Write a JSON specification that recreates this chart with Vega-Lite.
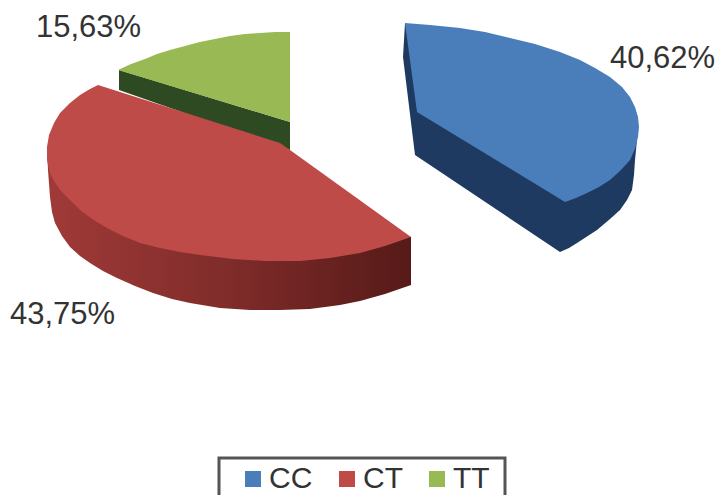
{
  "$schema": "https://vega.github.io/schema/vega-lite/v6.json",
  "width": 719,
  "height": 495,
  "padding": 0,
  "autosize": {"type": "none"},
  "background": "white",
  "view": {"stroke": null},
  "datasets": {
    "outlines": [
      {"slice":"TT","part":"wall","i":0,"x":119,"y":70},{"slice":"TT","part":"wall","i":1,"x":290,"y":122},{"slice":"TT","part":"wall","i":2,"x":290,"y":150},{"slice":"TT","part":"wall","i":3,"x":119,"y":90},

      {"slice":"CC","part":"wall","i":0,"x":405,"y":23},{"slice":"CC","part":"wall","i":1,"x":403,"y":57},{"slice":"CC","part":"wall","i":2,"x":415,"y":155},{"slice":"CC","part":"wall","i":3,"x":560,"y":252},{"slice":"CC","part":"wall","i":4,"x":569,"y":248},{"slice":"CC","part":"wall","i":5,"x":577,"y":243},{"slice":"CC","part":"wall","i":6,"x":597,"y":230},{"slice":"CC","part":"wall","i":7,"x":610,"y":219},{"slice":"CC","part":"wall","i":8,"x":620,"y":210},{"slice":"CC","part":"wall","i":9,"x":627,"y":200},{"slice":"CC","part":"wall","i":10,"x":632,"y":190},{"slice":"CC","part":"wall","i":11,"x":634,"y":175},{"slice":"CC","part":"wall","i":12,"x":635,"y":160},{"slice":"CC","part":"wall","i":13,"x":638,"y":130},

      {"slice":"CT","part":"wall","i":0,"x":47,"y":150},{"slice":"CT","part":"wall","i":1,"x":48,"y":170},{"slice":"CT","part":"wall","i":2,"x":50,"y":197},{"slice":"CT","part":"wall","i":3,"x":52,"y":212},{"slice":"CT","part":"wall","i":4,"x":55,"y":223},{"slice":"CT","part":"wall","i":5,"x":62,"y":236},{"slice":"CT","part":"wall","i":6,"x":70,"y":247},{"slice":"CT","part":"wall","i":7,"x":80,"y":256},{"slice":"CT","part":"wall","i":8,"x":90,"y":263},{"slice":"CT","part":"wall","i":9,"x":103,"y":271},{"slice":"CT","part":"wall","i":10,"x":117,"y":278},{"slice":"CT","part":"wall","i":11,"x":135,"y":286},{"slice":"CT","part":"wall","i":12,"x":153,"y":293},{"slice":"CT","part":"wall","i":13,"x":172,"y":299},{"slice":"CT","part":"wall","i":14,"x":190,"y":303},{"slice":"CT","part":"wall","i":15,"x":220,"y":308},{"slice":"CT","part":"wall","i":16,"x":250,"y":310},{"slice":"CT","part":"wall","i":17,"x":280,"y":310},{"slice":"CT","part":"wall","i":18,"x":310,"y":309},{"slice":"CT","part":"wall","i":19,"x":340,"y":305},{"slice":"CT","part":"wall","i":20,"x":360,"y":301},{"slice":"CT","part":"wall","i":21,"x":385,"y":294},{"slice":"CT","part":"wall","i":22,"x":411,"y":285},{"slice":"CT","part":"wall","i":23,"x":411,"y":237},

      {"slice":"TT","part":"face","i":0,"x":290,"y":32},{"slice":"TT","part":"face","i":1,"x":275,"y":32},{"slice":"TT","part":"face","i":2,"x":260,"y":33},{"slice":"TT","part":"face","i":3,"x":245,"y":34},{"slice":"TT","part":"face","i":4,"x":230,"y":36},{"slice":"TT","part":"face","i":5,"x":215,"y":39},{"slice":"TT","part":"face","i":6,"x":200,"y":42},{"slice":"TT","part":"face","i":7,"x":185,"y":46},{"slice":"TT","part":"face","i":8,"x":170,"y":50},{"slice":"TT","part":"face","i":9,"x":157,"y":54},{"slice":"TT","part":"face","i":10,"x":145,"y":59},{"slice":"TT","part":"face","i":11,"x":131,"y":64},{"slice":"TT","part":"face","i":12,"x":118,"y":70},{"slice":"TT","part":"face","i":13,"x":290,"y":122},

      {"slice":"CC","part":"face","i":0,"x":405,"y":23},{"slice":"CC","part":"face","i":1,"x":430,"y":25},{"slice":"CC","part":"face","i":2,"x":460,"y":28},{"slice":"CC","part":"face","i":3,"x":485,"y":32},{"slice":"CC","part":"face","i":4,"x":510,"y":38},{"slice":"CC","part":"face","i":5,"x":535,"y":44},{"slice":"CC","part":"face","i":6,"x":560,"y":52},{"slice":"CC","part":"face","i":7,"x":580,"y":60},{"slice":"CC","part":"face","i":8,"x":595,"y":68},{"slice":"CC","part":"face","i":9,"x":610,"y":77},{"slice":"CC","part":"face","i":10,"x":622,"y":87},{"slice":"CC","part":"face","i":11,"x":630,"y":97},{"slice":"CC","part":"face","i":12,"x":635,"y":107},{"slice":"CC","part":"face","i":13,"x":638,"y":117},{"slice":"CC","part":"face","i":14,"x":639,"y":127},{"slice":"CC","part":"face","i":15,"x":638,"y":137},{"slice":"CC","part":"face","i":16,"x":635,"y":149},{"slice":"CC","part":"face","i":17,"x":630,"y":160},{"slice":"CC","part":"face","i":18,"x":621,"y":170},{"slice":"CC","part":"face","i":19,"x":610,"y":180},{"slice":"CC","part":"face","i":20,"x":599,"y":187},{"slice":"CC","part":"face","i":21,"x":587,"y":193},{"slice":"CC","part":"face","i":22,"x":576,"y":198},{"slice":"CC","part":"face","i":23,"x":565,"y":202},{"slice":"CC","part":"face","i":24,"x":417,"y":112},

      {"slice":"CT","part":"face","i":0,"x":98,"y":85},{"slice":"CT","part":"face","i":1,"x":280,"y":143},{"slice":"CT","part":"face","i":2,"x":290,"y":150},{"slice":"CT","part":"face","i":3,"x":411,"y":237},{"slice":"CT","part":"face","i":4,"x":385,"y":246},{"slice":"CT","part":"face","i":5,"x":360,"y":253},{"slice":"CT","part":"face","i":6,"x":330,"y":258},{"slice":"CT","part":"face","i":7,"x":300,"y":261},{"slice":"CT","part":"face","i":8,"x":265,"y":261},{"slice":"CT","part":"face","i":9,"x":233,"y":259},{"slice":"CT","part":"face","i":10,"x":200,"y":255},{"slice":"CT","part":"face","i":11,"x":180,"y":252},{"slice":"CT","part":"face","i":12,"x":160,"y":248},{"slice":"CT","part":"face","i":13,"x":140,"y":243},{"slice":"CT","part":"face","i":14,"x":123,"y":236},{"slice":"CT","part":"face","i":15,"x":107,"y":228},{"slice":"CT","part":"face","i":16,"x":92,"y":219},{"slice":"CT","part":"face","i":17,"x":80,"y":210},{"slice":"CT","part":"face","i":18,"x":70,"y":200},{"slice":"CT","part":"face","i":19,"x":60,"y":190},{"slice":"CT","part":"face","i":20,"x":54,"y":181},{"slice":"CT","part":"face","i":21,"x":50,"y":173},{"slice":"CT","part":"face","i":22,"x":47,"y":160},{"slice":"CT","part":"face","i":23,"x":47,"y":147},{"slice":"CT","part":"face","i":24,"x":49,"y":135},{"slice":"CT","part":"face","i":25,"x":54,"y":123},{"slice":"CT","part":"face","i":26,"x":60,"y":113},{"slice":"CT","part":"face","i":27,"x":70,"y":103},{"slice":"CT","part":"face","i":28,"x":80,"y":95},{"slice":"CT","part":"face","i":29,"x":90,"y":89}
    ],
    "shares": [
      {"slice":"CC","label":"40,62%","x":610,"y":68},
      {"slice":"CT","label":"43,75%","x":10,"y":324},
      {"slice":"TT","label":"15,63%","x":36,"y":37}
    ],
    "frame": [
      {"x":219,"x2":505,"y":458,"y2":510}
    ]
  },
  "encoding": {
    "x": {"field":"x","type":"quantitative","scale":{"domain":[0,719],"nice":false,"zero":false},"axis":null},
    "y": {"field":"y","type":"quantitative","scale":{"domain":[495,0],"nice":false,"zero":false},"axis":null}
  },
  "layer": [
    {
      "data": {"name":"outlines"},
      "transform": [{"filter":"datum.part === 'wall' && datum.slice === 'TT'"}],
      "mark": {"type":"line","filled":true,"fill":"#2e4a22","stroke":null},
      "encoding": {"order":{"field":"i","type":"quantitative"}}
    },
    {
      "data": {"name":"outlines"},
      "transform": [{"filter":"datum.part === 'wall' && datum.slice === 'CC'"}],
      "mark": {"type":"line","filled":true,"fill":"#1f3a60","stroke":null},
      "encoding": {"order":{"field":"i","type":"quantitative"}}
    },
    {
      "data": {"name":"outlines"},
      "transform": [{"filter":"datum.part === 'wall' && datum.slice === 'CT'"}],
      "mark": {
        "type":"line","filled":true,"stroke":null,
        "fill":{"gradient":"linear","x1":0,"y1":0,"x2":1,"y2":0,"stops":[
          {"offset":0,"color":"#a03a38"},
          {"offset":0.5,"color":"#7f2c2a"},
          {"offset":1,"color":"#561a18"}
        ]}
      },
      "encoding": {"order":{"field":"i","type":"quantitative"}}
    },
    {
      "data": {"name":"outlines"},
      "transform": [{"filter":"datum.part === 'face'"}],
      "mark": {"type":"line","filled":true,"stroke":null},
      "encoding": {
        "order":{"field":"i","type":"quantitative"},
        "color": {
          "field":"slice","type":"nominal",
          "scale":{"domain":["CC","CT","TT"],"range":["#4a7ebb","#be4b48","#98b954"]},
          "legend":{
            "title":null,"orient":"none","legendX":238,"legendY":464,"direction":"horizontal","columns":3,
            "symbolType":"square","symbolSize":256,"symbolStrokeWidth":0,
            "labelFont":"Liberation Sans","labelFontSize":30,"labelColor":"#333333","labelOffset":1,
            "columnPadding":19,"padding":0
          }
        }
      }
    },
    {
      "data": {"name":"frame"},
      "mark": {"type":"rect","filled":false,"stroke":"#555555","strokeWidth":3,"clip":false},
      "encoding": {
        "x2": {"field":"x2"},
        "y2": {"field":"y2"}
      }
    },
    {
      "data": {"name":"shares"},
      "mark": {"type":"text","align":"left","baseline":"alphabetic","font":"Liberation Sans","fontSize":31,"color":"#333333"},
      "encoding": {"text":{"field":"label","type":"nominal"}}
    }
  ]
}
